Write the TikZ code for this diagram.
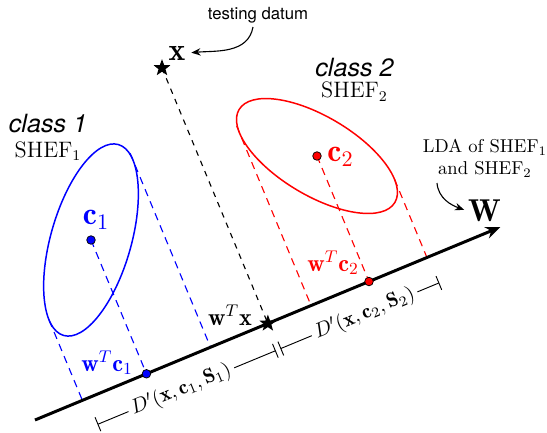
\RequirePackage{fix-cm}
\documentclass[tikz,border=0pt]{standalone}
\usepackage{fontspec}
\newfontfamily\helv{TeX Gyre Heros}
\usetikzlibrary{arrows.meta,calc,shapes.geometric}
\begin{document}
\begin{tikzpicture}[x=0.5375pt,y=0.5375pt,
  every node/.style={inner sep=1pt},
  dot/.style={circle, draw=black, line width=0.4pt, minimum size=4.6pt, inner sep=0pt},
  starmark/.style={star, star points=5, star point ratio=2.4, fill=black, minimum size=9.5pt, inner sep=0pt},
  proj/.style={dash pattern=on 4pt off 3pt, line width=0.6pt},
  ell/.style={line width=0.8pt},
  mlabel/.style={font=\fontsize{13}{15}\selectfont},
  clabel/.style={font=\fontsize{17}{20}\selectfont},
  classlabel/.style={font=\helv\itshape\fontsize{13.5}{16}\selectfont},
  sheflabel/.style={font=\fontsize{12}{14}\selectfont},
  dimline/.style={line width=0.5pt, {Bar[width=8pt]}-{Bar[width=8pt]}},
  dimtext/.style={sloped, fill=white, inner sep=2pt, font=\fontsize{11}{13}\selectfont},
  curvarrow/.style={line width=0.6pt, -{Stealth[length=5pt,width=4pt]}}
  ]
\useasboundingbox (0,0) rectangle (547,432);
% axis
\coordinate (o) at (35,12);
\coordinate (tip) at (500.5,205);
\coordinate (c1) at (91,192);
\coordinate (c2) at (317,276);
\coordinate (xx) at (162,364);
\coordinate (pc1) at ($(o)!(c1)!(tip)$);
\coordinate (pc2) at ($(o)!(c2)!(tip)$);
\coordinate (px) at ($(o)!(xx)!(tip)$);
% ellipses
\draw[blue, ell, rotate around={74:(c1)}] (c1) ellipse [x radius=99.3, y radius=40.2];
\draw[red, ell, rotate around={-30.8:(c2)}] (c2) ellipse [x radius=90.7, y radius=39.4];
\begin{scope}[shift={(c1)}, rotate=74]
  \coordinate (b1) at (-27:99.3 and 40.2);
  \coordinate (b2) at (153:99.3 and 40.2);
\end{scope}
\begin{scope}[shift={(c2)}, rotate=-30.8]
  \coordinate (r1) at (30.2:90.7 and 39.4);
  \coordinate (r2) at (210.2:90.7 and 39.4);
\end{scope}
\coordinate (fb1) at ($(o)!(b1)!(tip)$);
\coordinate (fb2) at ($(o)!(b2)!(tip)$);
\coordinate (fr1) at ($(o)!(r1)!(tip)$);
\coordinate (fr2) at ($(o)!(r2)!(tip)$);
% projection lines
\draw[blue, proj] ($(b1)!-4pt!(fb1)$) -- (fb1);
\draw[blue, proj] (b2) -- (fb2);
\draw[blue, proj] (c1) -- (pc1);
\draw[red, proj] (r1) -- (fr1);
\draw[red, proj] ($(r2)!-4pt!(fr2)$) -- (fr2);
\draw[red, proj] (c2) -- (pc2);
\draw[dashed, line width=0.6pt] (xx) -- (px);
% main axis
\draw[line width=1.6pt, -{Stealth[length=8pt,width=6.5pt]}] (o) -- (tip);
% markers
\node[dot, fill=blue] (dc1) at (c1) {};
\node[dot, fill=blue] (dpc1) at (pc1) {};
\node[dot, fill=red] (dc2) at (c2) {};
\node[dot, fill=red] (dpc2) at (pc2) {};
\node[starmark] (sx) at (xx) {};
\node[starmark] (spx) at (px) {};
% dimension lines
\coordinate (dA) at (97.5,7.6);
\coordinate (dM1) at (275.8,81.4);
\coordinate (dM2) at (280.4,83.3);
\coordinate (dB) at (439.3,149.2);
\draw[dimline] (dA) -- node[dimtext, pos=0.47] {$D'(\mathbf{x},\mathbf{c}_1,\mathbf{S}_1)$} (dM1);
\draw[dimline] (dM2) -- node[dimtext, pos=0.53] {$D'(\mathbf{x},\mathbf{c}_2,\mathbf{S}_2)$} (dB);
% labels
\node[clabel, blue] (lc1) at (96,212) {$\mathbf{c}_1$};
\node[clabel, red] (lc2) at (340.5,275.5) {$\mathbf{c}_2$};
\node[clabel] (lx) at (177,379) {$\mathbf{x}$};
\node[clabel] (lW) at (484.5,221.5) {$\mathbf{W}$};
\node[mlabel, blue] (lwc1) at (107,69) {$\mathbf{w}^T\mathbf{c}_1$};
\node[mlabel] (lwx) at (230,117) {$\mathbf{w}^T\mathbf{x}$};
\node[mlabel, red] (lwc2) at (333,169) {$\mathbf{w}^T\mathbf{c}_2$};
\node[classlabel] (cl1) at (48,308) {class 1};
\node[sheflabel] (sh1) at (48,281) {SHEF$_1$};
\node[classlabel] (cl2) at (354.5,364.5) {class 2};
\node[sheflabel] (sh2) at (354.5,340.5) {SHEF$_2$};
\node[align=center, font=\fontsize{10}{12}\selectfont] (lda) at (485,273.5) {LDA of SHEF$_1$\\and SHEF$_2$};
\node[font=\helv\fontsize{9}{11}\selectfont] (td) at (258,417) {testing datum};
% curved arrows
\coordinate (tdStart) at (253,405);
\coordinate (ldaStart) at (437,249);
\draw[curvarrow, shorten >=2pt] (tdStart) to[out=-100, in=5] (lx.east);
\draw[curvarrow, shorten >=1pt] (ldaStart) to[out=-85, in=160] (lW.west);
\end{tikzpicture}
\end{document}
